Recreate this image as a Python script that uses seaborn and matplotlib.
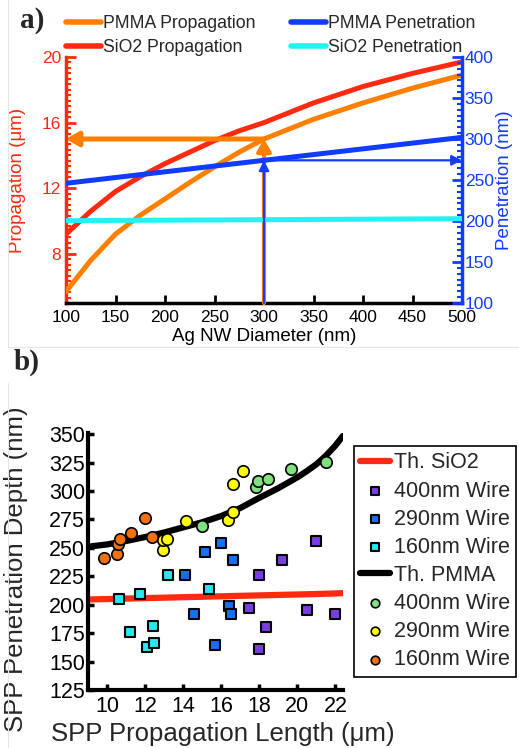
import numpy as np
import pandas as pd
import matplotlib
matplotlib.use("Agg")
import matplotlib.pyplot as plt
from matplotlib.ticker import MultipleLocator, AutoMinorLocator, FixedLocator
from matplotlib.lines import Line2D
import seaborn as sns

# ---------------- data: panel a ----------------
diameter = [100, 125, 150, 175, 200, 225, 250, 275, 300, 325, 350, 375, 400, 425, 450, 475, 500]
sio2_prop = [9.2, 10.6, 11.8, 12.7, 13.5, 14.2, 14.9, 15.5, 16.0, 16.6, 17.2, 17.7, 18.2, 18.6, 19.0, 19.35, 19.7]
pmma_prop = [5.7, 7.6, 9.2, 10.35, 11.35, 12.35, 13.3, 14.2, 15.0, 15.6, 16.2, 16.7, 17.2, 17.65, 18.1, 18.5, 18.9]
pmma_pen = [246, 249.5, 253, 256.5, 260, 263.5, 267, 270.5, 274, 277.5, 281, 284.5, 288, 291.5, 295, 298.5, 302]
sio2_pen = [200.4, 200.55, 200.7, 200.85, 201.0, 201.15, 201.3, 201.45, 201.6, 201.75, 201.9, 202.05, 202.2, 202.35, 202.5, 202.65, 202.8]
marked_diameter = 300

# ---------------- data: panel b ----------------
th_x = [9.0, 10.0, 11.0, 12.0, 13.0, 14.0, 15.0, 16.0, 17.0, 18.0, 19.0, 20.0, 20.5, 21.0, 21.5, 22.0, 22.4]
th_pmma = [251, 253, 256, 259.5, 263.5, 268, 272.5, 278, 285, 294, 302.5, 312, 317.5, 323.5, 331, 340, 348.5]
th_sio2 = [204.6, 205.0, 205.4, 205.8, 206.2, 206.6, 207.0, 207.4, 207.8, 208.2, 208.6, 209.0, 209.2, 209.4, 209.65, 209.9, 210.2]

sq400_x = [17.45, 18.01, 17.98, 18.33, 19.2, 20.51, 20.98, 21.99]
sq400_y = [197.5, 226.4, 161.2, 180.2, 239.2, 195.7, 256.2, 191.9]
sq290_x = [14.08, 14.57, 15.15, 15.65, 15.97, 16.4, 16.52, 16.61]
sq290_y = [226.1, 192.2, 246.2, 164.5, 254.7, 198.6, 191.6, 239.6]
sq160_x = [10.65, 11.75, 13.18, 11.22, 12.39, 12.09, 12.48, 15.36]
sq160_y = [204.8, 209.8, 226.1, 175.9, 181.1, 163.0, 166.5, 213.8]

ci400_x = [14.97, 17.85, 17.92, 18.45, 19.67, 21.52]
ci400_y = [269.4, 303.2, 309.0, 310.2, 319.6, 325.1]
ci290_x = [12.92, 12.92, 13.15, 14.14, 16.35, 16.63, 16.63, 17.16]
ci290_y = [247.7, 256.5, 257.4, 273.4, 274.6, 281.3, 306.2, 317.2]
ci160_x = [9.85, 10.55, 10.6, 10.7, 11.25, 12.0, 12.35]
ci160_y = [241.0, 245.0, 253.0, 258.0, 263.5, 276.5, 259.5]

a_x_ticks = [100, 150, 200, 250, 300, 350, 400, 450, 500]
a_left_ticks = [8, 12, 16, 20]
a_right_ticks = [100, 150, 200, 250, 300, 350, 400]
b_x_ticks = [10, 12, 14, 16, 18, 20, 22]
b_y_ticks = [125, 150, 175, 200, 225, 250, 275, 300, 325, 350]

# ---------------- colours ----------------
C_ORANGE = "#ff8000"
C_RED = "#ff2a10"
C_BLUE = "#0f3cff"
C_CYAN = "#22f2f2"
C_PURPLE = "#7a3ee0"
C_MBLUE = "#1670f0"
C_MCYAN = "#2ae6f0"
C_GREEN = "#7fe27f"
C_YELLOW = "#ffff00"
C_MORANGE = "#f2700f"

sns.set_theme(style="white")
plt.rcParams["font.family"] = ["Liberation Sans", "DejaVu Sans"]

W, H = 519, 748
fig = plt.figure(figsize=(W / 100, H / 100), dpi=100)

def fx(px):
    return px / W

def fy(py):
    return 1 - py / H

# faint panel frames
fig.add_artist(Line2D([fx(8), fx(8)], [fy(0), fy(347)], color="#e6e6e6", lw=0.8))
fig.add_artist(Line2D([fx(8), fx(519)], [fy(347), fy(347)], color="#e6e6e6", lw=0.8))
fig.add_artist(Line2D([fx(8), fx(8)], [fy(383), fy(748)], color="#e6e6e6", lw=0.8))

# ================= panel a =================
axa = fig.add_axes([fx(66), fy(303), fx(462) - fx(66), fy(57) - fy(303)])
axa2 = axa.twinx()

dfa = pd.DataFrame({"d": diameter, "sio2_prop": sio2_prop, "pmma_prop": pmma_prop,
                    "pmma_pen": pmma_pen, "sio2_pen": sio2_pen})

sns.lineplot(data=dfa, x="d", y="sio2_prop", ax=axa, color=C_RED, lw=3.6, zorder=3)
sns.lineplot(data=dfa, x="d", y="pmma_prop", ax=axa, color=C_ORANGE, lw=3.6, zorder=3)
sns.lineplot(data=dfa, x="d", y="pmma_pen", ax=axa2, color=C_BLUE, lw=3.6, zorder=3)
sns.lineplot(data=dfa, x="d", y="sio2_pen", ax=axa2, color=C_CYAN, lw=3.6, zorder=3)

axa.set_xlim(100, 500)
axa.set_ylim(5, 20)
axa2.set_ylim(100, 400)

prop_at = float(np.interp(marked_diameter, diameter, pmma_prop))
pen_at = float(np.interp(marked_diameter, diameter, pmma_pen))

# orange vertical + horizontal arrows (left axis)
axa.annotate("", xy=(marked_diameter, prop_at), xytext=(marked_diameter, 5),
             arrowprops=dict(arrowstyle="-|>,head_length=0.6,head_width=0.35",
                             color=C_ORANGE, lw=3.0, shrinkA=0, shrinkB=0), zorder=4)
axa.annotate("", xy=(100, prop_at), xytext=(marked_diameter, prop_at),
             arrowprops=dict(arrowstyle="-|>,head_length=0.6,head_width=0.35",
                             color=C_ORANGE, lw=3.6, shrinkA=0, shrinkB=0), zorder=4)
# blue vertical + horizontal arrows (right axis)
axa2.annotate("", xy=(marked_diameter, pen_at), xytext=(marked_diameter, 100),
              arrowprops=dict(arrowstyle="-|>,head_length=0.5,head_width=0.25",
                              color=C_BLUE, lw=1.6, shrinkA=0, shrinkB=0), zorder=5)
axa2.annotate("", xy=(500, pen_at), xytext=(marked_diameter, pen_at),
              arrowprops=dict(arrowstyle="-|>,head_length=0.5,head_width=0.25",
                              color=C_BLUE, lw=1.6, shrinkA=0, shrinkB=0), zorder=5)

for ax in (axa, axa2):
    ax.spines["top"].set_visible(False)
axa.spines["right"].set_visible(False)
axa2.spines["left"].set_visible(False)
axa2.spines["bottom"].set_visible(False)
axa.spines["left"].set_color(C_RED)
axa.spines["left"].set_linewidth(2.5)
axa2.spines["right"].set_color(C_BLUE)
axa2.spines["right"].set_linewidth(2.5)
axa.spines["bottom"].set_color("black")
axa.spines["bottom"].set_linewidth(2.5)

axa.xaxis.set_major_locator(FixedLocator(a_x_ticks))
axa.yaxis.set_major_locator(FixedLocator(a_left_ticks))
axa.yaxis.set_minor_locator(MultipleLocator(1 / 3))
axa2.yaxis.set_major_locator(FixedLocator(a_right_ticks))
axa2.yaxis.set_minor_locator(AutoMinorLocator(7))

axa.tick_params(axis="x", direction="in", length=6, width=2, colors="black",
                labelsize=12.5, pad=5, bottom=True)
axa.tick_params(axis="y", which="major", direction="in", length=7, width=2,
                colors=C_RED, labelsize=12.5, left=True)
axa.tick_params(axis="y", which="minor", direction="in", length=3.5, width=1.5,
                color=C_RED, left=True)
axa2.tick_params(axis="y", which="major", direction="in", length=7, width=2,
                 colors=C_BLUE, labelsize=12.5, right=True, pad=2)
axa2.tick_params(axis="y", which="minor", direction="in", length=3.5, width=1.5,
                 color=C_BLUE, right=True)

axa.set_xlabel("Ag NW Diameter (nm)", fontsize=13.5, color="black", labelpad=2)
axa.set_ylabel("Propagation (μm)", fontsize=13.5, color=C_RED)
axa2.set_ylabel("Penetration (nm)", fontsize=13.5, color=C_BLUE)
axa.yaxis.set_label_coords(-0.102, 0.5)
axa2.yaxis.set_label_coords(1.085, 0.5)

handles_a = [
    Line2D([], [], color=C_ORANGE, lw=4),
    Line2D([], [], color=C_RED, lw=4),
    Line2D([], [], color=C_BLUE, lw=4),
    Line2D([], [], color=C_CYAN, lw=4),
]
labels_a = ["PMMA Propagation", "SiO2 Propagation", "PMMA Penetration", "SiO2 Penetration"]
fig.legend(handles_a, labels_a, ncol=2, loc="upper left",
           bbox_to_anchor=(fx(66), fy(15)), frameon=False, fontsize=12.7,
           handlelength=2.0, handletextpad=0.1, columnspacing=2.0,
           labelspacing=0.4, borderaxespad=0, borderpad=0)

fig.text(fx(20), fy(20), "a)", fontsize=21, fontweight="bold",
         family=["Liberation Serif", "DejaVu Serif"], va="center", ha="left")
fig.text(fx(14), fy(362), "b)", fontsize=21, fontweight="bold",
         family=["Liberation Serif", "DejaVu Serif"], va="center", ha="left")

# ================= panel b =================
axb = fig.add_axes([fx(88), fy(690), fx(343) - fx(88), fy(433) - fy(690)])

dfth = pd.DataFrame({"x": th_x, "pmma": th_pmma, "sio2": th_sio2})
sns.lineplot(data=dfth, x="x", y="sio2", ax=axb, color=C_RED, lw=4.5,
             zorder=2, label="Th. SiO2")

def sq(xs, ys, col, lab):
    sns.scatterplot(x=xs, y=ys, ax=axb, marker="s", s=48, color=col,
                    edgecolor="black", linewidth=1.5, zorder=4, label=lab)

def ci(xs, ys, col, lab):
    sns.scatterplot(x=xs, y=ys, ax=axb, marker="o", s=68, color=col,
                    edgecolor="black", linewidth=1.2, zorder=4, label=lab)

sq(sq400_x, sq400_y, C_PURPLE, "400nm Wire")
sq(sq290_x, sq290_y, C_MBLUE, "290nm Wire")
sq(sq160_x, sq160_y, C_MCYAN, "160nm Wire")
sns.lineplot(data=dfth, x="x", y="pmma", ax=axb, color="black", lw=4.5,
             zorder=3, label="Th. PMMA")
ci(ci400_x, ci400_y, C_GREEN, "400nm Wire")
ci(ci290_x, ci290_y, C_YELLOW, "290nm Wire")
ci(ci160_x, ci160_y, C_MORANGE, "160nm Wire")

axb.set_xlim(9.0, 22.4)
axb.set_ylim(125, 351)
axb.xaxis.set_major_locator(FixedLocator(b_x_ticks))
axb.yaxis.set_major_locator(FixedLocator(b_y_ticks))
for s in ("top", "right"):
    axb.spines[s].set_visible(False)
for s in ("left", "bottom"):
    axb.spines[s].set_color("black")
    axb.spines[s].set_linewidth(3)
axb.tick_params(axis="both", direction="in", length=4, width=2.5, colors="black",
                labelsize=15.5, left=True, bottom=True)
axb.tick_params(axis="y", pad=2)
axb.tick_params(axis="x", pad=4)
axb.set_xlabel("SPP Propagation Length (μm)", fontsize=18.5)
axb.set_ylabel("SPP Penetration Depth (nm)", fontsize=18.5)
axb.xaxis.set_label_coords(0.53, -0.125)
axb.yaxis.set_label_coords(-0.235, 0.47)

h, l = axb.get_legend_handles_labels()
for hh in h:
    if isinstance(hh, Line2D) and hh.get_linestyle() not in ("None", "", " "):
        hh.set_linewidth(4.5)
leg = axb.legend(h, l, loc="upper left",
                 bbox_to_anchor=(fx(354), fy(446)), bbox_transform=fig.transFigure,
                 fontsize=15.5, frameon=True, fancybox=False, framealpha=1,
                 edgecolor="black", handlelength=1.35, handletextpad=0.2,
                 labelspacing=0.33, borderpad=0.3, borderaxespad=0, markerscale=0.75)
leg.get_frame().set_linewidth(1.2)

fig.savefig("out.png", dpi=100)
